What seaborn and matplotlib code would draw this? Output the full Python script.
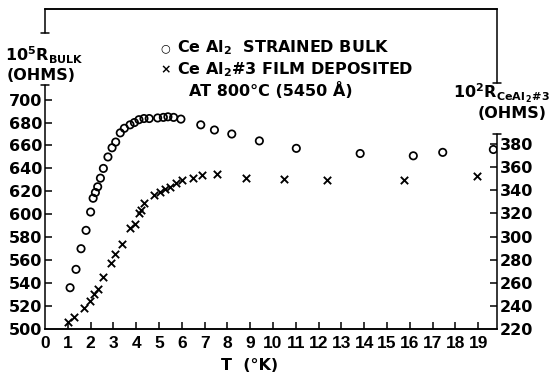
import matplotlib
matplotlib.use("Agg")
import matplotlib.pyplot as plt
import matplotlib.transforms as mtransforms
import seaborn as sns
import numpy as np

# ---- data ----
bulk_T = [1.10, 1.36, 1.58, 1.80, 2.00, 2.11, 2.21, 2.31, 2.43, 2.56, 2.76, 2.94,
          3.10, 3.30, 3.48, 3.73, 3.92, 4.12, 4.34, 4.57, 4.94, 5.19, 5.39, 5.64,
          5.96, 6.83, 7.43, 8.19, 9.40, 11.02, 13.82, 16.15, 17.44, 19.66]
bulk_R = [536, 552, 570, 586, 602, 614, 619, 624, 631.5, 640, 650, 658,
          663, 671, 675, 678, 680, 682.5, 683.5, 683.5, 684, 684.5, 685, 684.5,
          683, 678, 673.5, 670, 664, 657.5, 653, 651, 654, 656.5]

film_T = [0.99, 1.29, 1.72, 1.97, 2.16, 2.34, 2.56, 2.88, 3.09, 3.38, 3.73, 3.96,
          4.11, 4.22, 4.36, 4.80, 5.04, 5.26, 5.48, 5.75, 6.02, 6.49, 6.90, 7.56,
          8.82, 10.48, 12.35, 15.75, 18.93]
film_R = [226, 230, 238, 244, 250, 255, 265, 277, 285, 294, 307, 311,
          320, 323, 329, 336, 339, 341, 343, 346.5, 349, 350.5, 353, 354,
          350.5, 349.5, 349, 349, 352.5]

x_labels = [str(v) for v in range(0, 20)]
left_ticks = list(range(500, 701, 20))
right_ticks = list(range(220, 381, 20))

sns.set_theme(style="white")
plt.rcParams['font.family'] = ['DejaVu Sans']
plt.rcParams['mathtext.fontset'] = 'dejavusans'

W, H = 550, 389
fig = plt.figure(figsize=(W / 100, H / 100), dpi=100)
L, R, B, T = 45, 497, 329, 9
ax = fig.add_axes([L / W, 1 - B / H, (R - L) / W, (B - T) / H])
ax2 = ax.twinx()

sns.scatterplot(x=bulk_T, y=bulk_R, ax=ax, marker='o', s=28,
                facecolors='none', edgecolor='black', linewidth=1.25, zorder=3)
sns.scatterplot(x=film_T, y=film_R, ax=ax2, marker='x', s=28,
                color='black', linewidth=1.35, zorder=3)

ax.set_xlim(0, 19.82)
ax.set_ylim(500, 779)
ax2.set_ylim(220, 497)

ax.set_xticks(range(0, 20))
ax.set_xticklabels(x_labels)
ax.set_yticks(left_ticks)
ax2.set_yticks(right_ticks)

fs = 11.5
for a in (ax, ax2):
    a.tick_params(direction='in', length=5, width=1.1, color='black',
                  labelsize=fs, labelcolor='black')
    for s in ('left', 'right'):
        a.spines[s].set_visible(False)
    a.spines['top'].set_linewidth(1.1)
    a.spines['bottom'].set_linewidth(1.1)
    a.spines['top'].set_color('black')
    a.spines['bottom'].set_color('black')
    a.set_xlabel('')
    a.set_ylabel('')
ax.tick_params(axis='y', left=True, right=False, pad=2)
ax.tick_params(axis='x', bottom=True, pad=5)
ax2.tick_params(axis='y', right=True, left=False, pad=2)
ax.xaxis.get_major_ticks()[0].tick1line.set_visible(False)
ax.yaxis.get_major_ticks()[0].tick1line.set_visible(False)
ax2.yaxis.get_major_ticks()[0].tick2line.set_visible(False)
for lab in ax.get_yticklabels() + ax2.get_yticklabels():
    lab.set_fontweight('bold')
for lab in ax.get_xticklabels():
    lab.set_fontweight('bold')
    lab.set_family(['Liberation Sans', 'DejaVu Sans'])
    lab.set_fontsize(12.5)

# broken vertical spines with caps
lw = 1.1
capw = 0.009
trL = mtransforms.blended_transform_factory(ax.transAxes, ax.transData)
trR = mtransforms.blended_transform_factory(ax2.transAxes, ax2.transData)
for (y0, y1, cap) in [(500, 713, 713), (758, 779, 758)]:
    ax.plot([0, 0], [y0, y1], color='black', lw=lw, transform=trL, clip_on=False)
    ax.plot([-capw, capw], [cap, cap], color='black', lw=lw, transform=trL, clip_on=False)
for (y0, y1, cap) in [(220, 388.6, 388.6), (433, 497, 433)]:
    ax2.plot([1, 1], [y0, y1], color='black', lw=lw, transform=trR, clip_on=False)
    ax2.plot([1 - capw, 1 + capw], [cap, cap], color='black', lw=lw, transform=trR, clip_on=False)

def ftext(x, y, s, **kw):
    fig.text(x / W, 1 - y / H, s, fontsize=kw.pop('fontsize', fs), fontweight='bold',
             color='black', **kw)

ftext(5, 55, r"$\mathbf{10^{5}R_{BULK}}$", ha='left', va='center')
ftext(7, 75, "(OHMS)", ha='left', va='center')
ftext(453, 93, r"$\mathbf{10^{2}R_{CeAl_{\,2}\#3}}$", ha='left', va='center')
ftext(478, 113, "(OHMS)", ha='left', va='center')

ftext(160, 48, "\u25cb", ha='left', va='center', fontsize=8)
ftext(177, 48, r"Ce Al$\mathbf{_2}$  STRAINED BULK", ha='left', va='center')
ftext(160, 70, "\u00d7", ha='left', va='center', fontsize=9)
ftext(177, 70, r"Ce Al$\mathbf{_2}$#3 FILM DEPOSITED", ha='left', va='center')
ftext(189, 91, "AT 800\u00b0C (5450 \u00c5)", ha='left', va='center')

ftext(250, 365, "T  (\u00b0K)", ha='center', va='center')

fig.savefig("out.png", dpi=100, facecolor='white')
